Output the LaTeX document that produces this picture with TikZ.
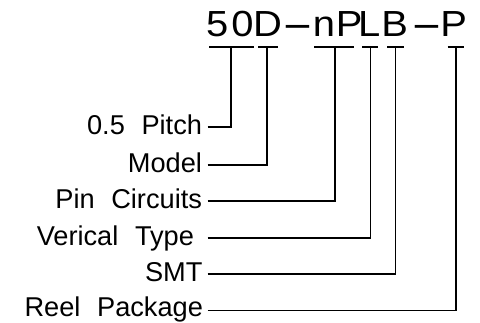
\documentclass[tikz,border=0pt]{standalone}
\usepackage{fontspec}
\newfontfamily\codefont[FakeStretch=1.1]{Liberation Sans}
\newfontfamily\labelfont[WordSpace=2.2]{Liberation Sans}
\newcommand\gl[2]{\makebox[#1pt][l]{#2}}
\newcommand\longhy{\scalebox{2.4}[1]{-}}
\begin{document}
\begin{tikzpicture}[x=1pt,y=-1pt,
  conn/.style={line width=1.4pt},
  codetext/.style={font=\codefont\fontsize{36.3}{40}\selectfont, inner sep=0pt, outer sep=0pt, anchor=base west},
  lbl/.style={font=\labelfont\fontsize{27.2}{30}\selectfont, inner ysep=0pt, inner xsep=5.5pt, outer sep=0pt, text height=14pt, text depth=0pt, anchor=east}]
\useasboundingbox (0,0) rectangle (480,322);
% part number
\node[codetext] (code) at (206.2,36) {\gl{25.3}{5}\gl{21.6}{0}\gl{28.5}{D}\gl{31.3}{\longhy}\gl{23.1}{n}\gl{22}{P}\gl{23.55}{L}\gl{29.05}{B}\gl{29.9}{\longhy}P};
% bars under characters
\coordinate (b1a) at (209,47);   \coordinate (b1b) at (254,47);   \coordinate (t1) at (231,47);
\coordinate (b2a) at (258,47);   \coordinate (b2b) at (278,47);   \coordinate (t2) at (267,47);
\coordinate (b3a) at (314,47);   \coordinate (b3b) at (354,47);   \coordinate (t3) at (335,47);
\coordinate (b4a) at (362,47);   \coordinate (b4b) at (378,47);   \coordinate (t4) at (370.5,47);
\coordinate (b5a) at (387,47);   \coordinate (b5b) at (404,47);   \coordinate (t5) at (395.5,47);
\coordinate (b6a) at (447.5,47); \coordinate (b6b) at (463.5,47); \coordinate (t6) at (456,47);
\foreach \i in {1,...,6} {\draw[conn] (b\i a) -- (b\i b);}
% labels
\node[lbl] (pitch)   at (207.5,127) {0.5 Pitch};
\node[lbl] (model)   at (207.5,165) {Model};
\node[lbl] (pins)    at (207.5,201) {Pin Circuits};
\node[lbl, inner xsep=13.5pt] (vert) at (207.5,238) {Verical Type};
\node[lbl, inner xsep=5pt] (smt)  at (207.5,274) {SMT};
\node[lbl, inner xsep=4.5pt, text height=11.5pt] (reel) at (207.5,310.5) {Reel Package};
% connectors
\draw[conn] (pitch.east) -| (t1);
\draw[conn] (model.east) -| (t2);
\draw[conn] (pins.east)  -| (t3);
\draw[conn] (vert.east)  -| (t4);
\draw[conn] (smt.east)   -| (t5);
\draw[conn] (reel.east)  -| (t6);
\end{tikzpicture}
\end{document}
